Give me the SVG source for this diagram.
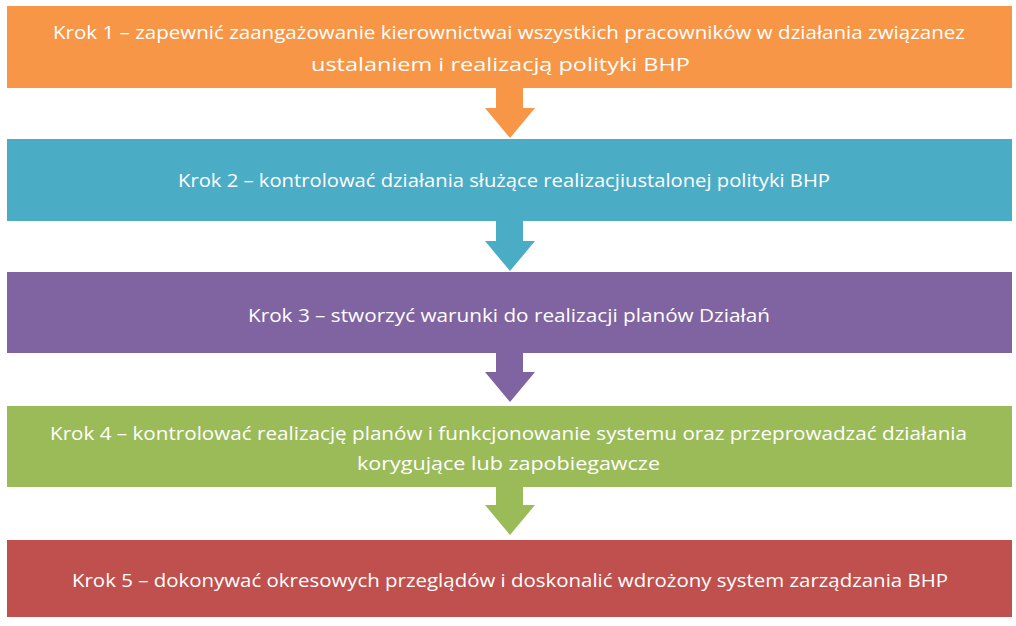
<svg xmlns="http://www.w3.org/2000/svg" width="1016" height="626" viewBox="0 0 1016 626">
<style>
.t{font-family:"Open Sans","Noto Sans","DejaVu Sans",sans-serif;font-size:19px;fill:#ffffff;}
</style>
<rect width="1016" height="626" fill="#ffffff"/>
<g id="connectors">
<polygon points="496,86 523,86 523,108 535,108 510,138 485,108 496,108" fill="#F79646"/>
<polygon points="496,219 523,219 523,241 535,241 510,271 485,241 496,241" fill="#4BACC6"/>
<polygon points="496,351 523,351 523,372 535,372 510,402 485,372 496,372" fill="#8064A2"/>
<polygon points="496,485 523,485 523,505 535,505 510,535 485,505 496,505" fill="#9BBB59"/>
</g>
<g id="krok1">
<rect x="7" y="6" width="1005" height="82" fill="#F79646"/>
<text class="t" x="53" y="39" textLength="912" lengthAdjust="spacingAndGlyphs">Krok 1 – zapewnić zaangażowanie kierownictwai wszystkich pracowników w działania związanez</text>
<text class="t" x="311" y="71" textLength="379" lengthAdjust="spacingAndGlyphs">ustalaniem i realizacją polityki BHP</text>
</g>
<g id="krok2">
<rect x="7" y="139" width="1005" height="82" fill="#4BACC6"/>
<text class="t" x="178" y="187" textLength="652" lengthAdjust="spacingAndGlyphs">Krok 2 – kontrolować działania służące realizacjiustalonej polityki BHP</text>
</g>
<g id="krok3">
<rect x="7" y="272" width="1005" height="81" fill="#8064A2"/>
<text class="t" x="248" y="322" textLength="522" lengthAdjust="spacingAndGlyphs">Krok 3 – stworzyć warunki do realizacji planów Działań</text>
</g>
<g id="krok4">
<rect x="7" y="406" width="1005" height="81" fill="#9BBB59"/>
<text class="t" x="50" y="440" textLength="917" lengthAdjust="spacingAndGlyphs">Krok 4 – kontrolować realizację planów i funkcjonowanie systemu oraz przeprowadzać działania</text>
<text class="t" x="357" y="470" textLength="303" lengthAdjust="spacingAndGlyphs">korygujące lub zapobiegawcze</text>
</g>
<g id="krok5">
<rect x="7" y="540" width="1005" height="77" fill="#C0504D"/>
<text class="t" x="72" y="587" textLength="876" lengthAdjust="spacingAndGlyphs">Krok 5 – dokonywać okresowych przeglądów  i doskonalić wdrożony system zarządzania BHP</text>
</g>
</svg>
